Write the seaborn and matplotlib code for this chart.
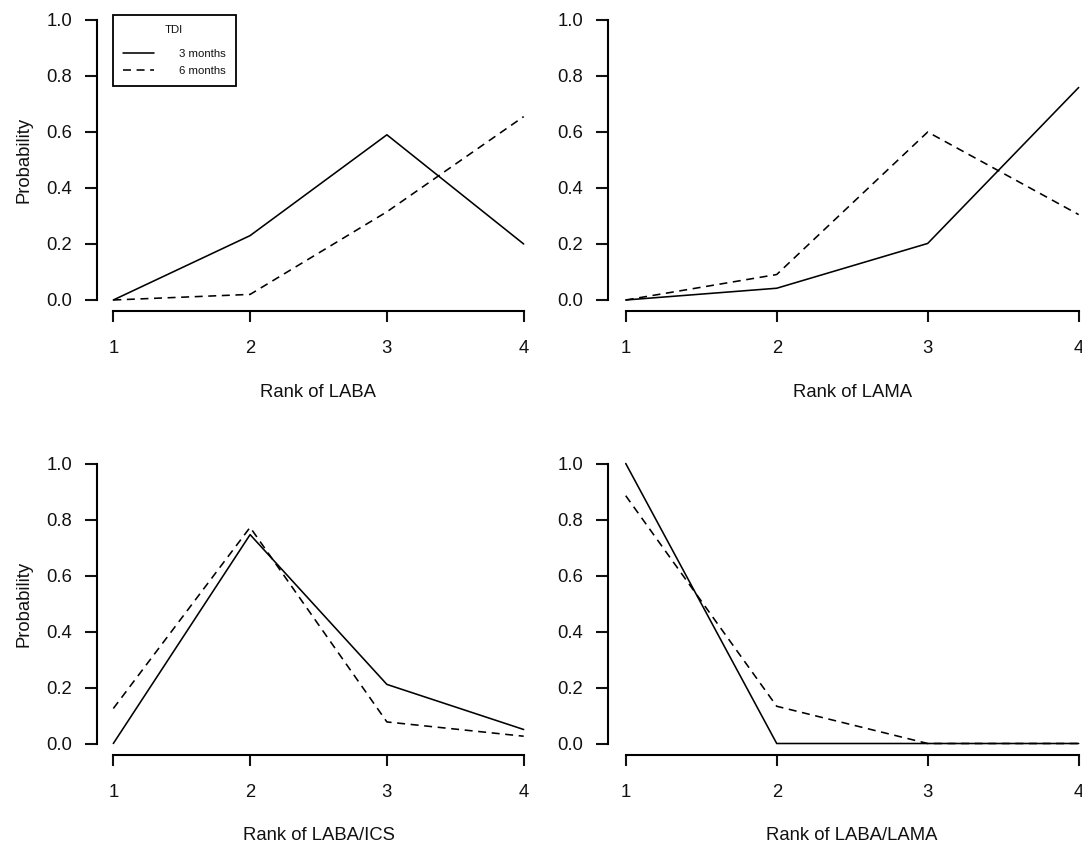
import numpy as np
import pandas as pd
import matplotlib
matplotlib.use("Agg")
import matplotlib.pyplot as plt
import seaborn as sns
from matplotlib.ticker import FormatStrFormatter

# ---------------- data ----------------
ranks = [1, 2, 3, 4]
series_names = ["3 months", "6 months"]
panel_labels = ["Rank of LABA", "Rank of LAMA", "Rank of LABA/ICS", "Rank of LABA/LAMA"]
laba_3m = [0.0, 0.23, 0.59, 0.20]
laba_6m = [0.0, 0.02, 0.315, 0.655]
lama_3m = [0.0, 0.042, 0.202, 0.759]
lama_6m = [0.0, 0.091, 0.60, 0.305]
labaics_3m = [0.0, 0.746, 0.211, 0.05]
labaics_6m = [0.125, 0.772, 0.077, 0.026]
labalama_3m = [1.0, 0.0, 0.0, 0.0]
labalama_6m = [0.885, 0.133, 0.0, 0.0]
legend_title = "TDI"
y_label = "Probability"
y_ticks = [0.0, 0.2, 0.4, 0.6, 0.8, 1.0]

panel_values = [
    (laba_3m, laba_6m),
    (lama_3m, lama_6m),
    (labaics_3m, labaics_6m),
    (labalama_3m, labalama_6m),
]

# ---------------- style ----------------
sns.set_style("white")
plt.rcParams["font.family"] = ["Liberation Sans", "DejaVu Sans"]
plt.rcParams["text.color"] = "#111111"
plt.rcParams["axes.labelcolor"] = "#111111"
plt.rcParams["xtick.color"] = "#111111"
plt.rcParams["ytick.color"] = "#111111"

W, H = 1082, 844
fig = plt.figure(figsize=(W / 100, H / 100), dpi=100)
fig.patch.set_facecolor("white")

# axes rectangles in pixels: (left, right), (top, bottom)
left_x = (96.9, 540.1)
right_x = (607.6, 1096.8)
top_y = (8.8, 311.2)
bot_y = (452.3, 754.7)
rects_px = [
    (left_x, top_y),
    (right_x, top_y),
    (left_x, bot_y),
    (right_x, bot_y),
]

FS = 13.3
dash_map = {"3 months": "", "6 months": (5, 3.5)}

axes = []
for i, ((x0, x1), (y0, y1)) in enumerate(rects_px):
    ax = fig.add_axes([x0 / W, 1 - y1 / H, (x1 - x0) / W, (y1 - y0) / H])
    axes.append(ax)
    s3, s6 = panel_values[i]
    df = pd.DataFrame({
        "rank": ranks * 2,
        "prob": list(s3) + list(s6),
        "series": [series_names[0]] * len(ranks) + [series_names[1]] * len(ranks),
    })
    sns.lineplot(data=df, x="rank", y="prob", style="series",
                 style_order=series_names, dashes=dash_map, color="black",
                 linewidth=1.15, ax=ax, legend=(i == 0), errorbar=None)
    ax.set_xlim(0.88, 4.12)
    ax.set_ylim(-0.04, 1.04)
    ax.set_xticks(ranks)
    ax.set_yticks(y_ticks)
    ax.yaxis.set_major_formatter(FormatStrFormatter("%.1f"))
    ax.grid(False)
    for sp in ["top", "right"]:
        ax.spines[sp].set_visible(False)
    for sp in ["left", "bottom"]:
        ax.spines[sp].set_linewidth(1.5)
        ax.spines[sp].set_color("black")
    ax.spines["left"].set_bounds(0, 1)
    ax.spines["bottom"].set_bounds(1, 4)
    ax.tick_params(axis="x", direction="out", length=8, width=1.5, pad=13,
                   labelsize=FS, bottom=True)
    ax.tick_params(axis="y", direction="out", length=8.5, width=1.5, pad=9.2,
                   labelsize=FS, left=True)
    ax.set_xlabel(panel_labels[i], fontsize=FS, labelpad=19)
    if i % 2 == 0:
        ax.set_ylabel(y_label, fontsize=FS, labelpad=10)
    else:
        ax.set_ylabel("")

# legend in the first panel
ax0 = axes[0]
handles, labels = ax0.get_legend_handles_labels()
if ax0.get_legend() is not None:
    ax0.get_legend().remove()
for h in handles:
    h.set_color("black")
    h.set_linewidth(1.15)
leg = ax0.legend(handles, labels, title=legend_title, loc="upper left",
                 bbox_to_anchor=(112.7 / W, 1 - 15 / H),
                 bbox_transform=fig.transFigure, borderaxespad=0,
                 fontsize=8.2, title_fontsize=8.2, frameon=True, fancybox=False,
                 edgecolor="black", framealpha=1, borderpad=0.9,
                 labelspacing=0.6, handlelength=2.7, handletextpad=2.2)
leg.get_frame().set_linewidth(1.3)
try:
    leg._legend_box.sep = 10.0
except Exception:
    pass

fig.savefig("out.png", dpi=100, facecolor="white")
